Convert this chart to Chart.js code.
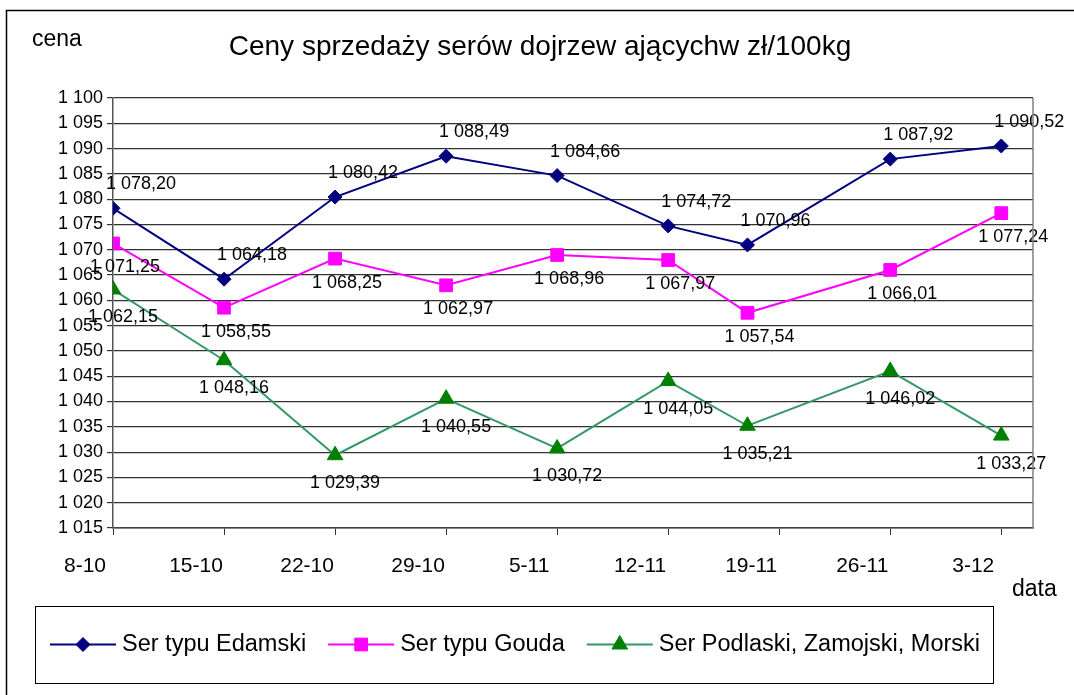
<!DOCTYPE html>
<html lang="pl">
<head>
<meta charset="utf-8">
<title>Ceny sprzedaży serów</title>
<script src="https://cdn.jsdelivr.net/npm/chart.js@4.4.1/dist/chart.umd.min.js"></script>
<style>
  html, body { margin: 0; padding: 0; background: #fff; }
  canvas { display: block; }
</style>
</head>
<body>
<canvas id="chart" width="1074" height="695"></canvas>
<script>
// Ceny sprzedaży serów dojrzewających w zł/100kg - notowania tygodniowe
const tickDays = [0, 7, 14, 21, 28, 35, 42, 49, 56]
const tickLabels = ['8-10', '15-10', '22-10', '29-10', '5-11', '12-11', '19-11', '26-11', '3-12']
// days counted from 8-10 (the 19-11 reading sits a bit before its tick on the date axis)
const pointDays = [0, 7, 14, 21, 28, 35, 40, 49, 56]
const edamski = [1078.20, 1064.18, 1080.42, 1088.49, 1084.66, 1074.72, 1070.96, 1087.92, 1090.52]
const gouda = [1071.25, 1058.55, 1068.25, 1062.97, 1068.96, 1067.97, 1057.54, 1066.01, 1077.24]
const podlaski = [1062.15, 1048.16, 1029.39, 1040.55, 1030.72, 1044.05, 1035.21, 1046.02, 1033.27]
const seriesNames = ['Ser typu Edamski', 'Ser typu Gouda', 'Ser Podlaski, Zamojski, Morski']

const FONT = "'Liberation Sans', Arial, sans-serif"

// "1 078,20" style
function plNumber(v, decimals) {
  const parts = v.toFixed(decimals).split('.')
  const int = parts[0].replace(/\B(?=(\d{3})+(?!\d))/g, ' ')
  return parts[1] ? int + ',' + parts[1] : int
}

const toPoints = (values) => values.map((v, i) => ({ x: pointDays[i], y: v }))

const datasets = [
  {
    label: seriesNames[0],
    data: toPoints(edamski),
    borderColor: '#000080',
    backgroundColor: '#000080',
    pointStyle: 'rectRot',
    pointRadius: 7,
    labelShift: { dx: 28, dy: -24 }
  },
  {
    label: seriesNames[1],
    data: toPoints(gouda),
    borderColor: '#FF00FF',
    backgroundColor: '#FF00FF',
    pointStyle: 'rect',
    pointRadius: 9,
    labelShift: { dx: 12, dy: 24 }
  },
  {
    label: seriesNames[2],
    data: toPoints(podlaski),
    borderColor: '#339966',
    backgroundColor: '#008000',
    pointBorderColor: '#008000',
    pointStyle: 'triangle',
    pointRadius: 9,
    labelShift: { dx: 10, dy: 28 }
  }
].map(ds => ({
  ...ds,
  borderWidth: 2,
  pointBorderWidth: 1,
  pointBackgroundColor: ds.backgroundColor,
  pointBorderColor: ds.pointBorderColor || ds.backgroundColor,
  tension: 0,
  fill: false
}))

// Value labels next to each point, Excel style
const valueLabels = {
  id: 'valueLabels',
  afterDatasetsDraw(chart) {
    const ctx = chart.ctx
    ctx.save()
    ctx.font = '18px ' + FONT
    ctx.fillStyle = '#000'
    ctx.textAlign = 'center'
    ctx.textBaseline = 'middle'
    chart.data.datasets.forEach((ds, di) => {
      const meta = chart.getDatasetMeta(di)
      meta.data.forEach((pt, i) => {
        ctx.fillText(plNumber(ds.data[i].y, 2), pt.x + ds.labelShift.dx, pt.y + ds.labelShift.dy)
      })
    })
    ctx.restore()
  }
}

// Frame, title, axis captions and the boxed legend
const decor = {
  id: 'decor',
  beforeDraw(chart) {
    const ctx = chart.ctx
    ctx.save()
    ctx.fillStyle = '#fff'
    ctx.fillRect(0, 0, chart.width, chart.height)
    ctx.strokeStyle = '#000'
    ctx.lineWidth = 1.5
    ctx.beginPath()
    ctx.moveTo(6.5, chart.height)
    ctx.lineTo(6.5, 10.5)
    ctx.lineTo(chart.width, 10.5)
    ctx.stroke()
    ctx.restore()
  },
  afterDraw(chart) {
    const ctx = chart.ctx
    const area = chart.chartArea
    ctx.save()

    // right edge of the plot area
    ctx.strokeStyle = '#808080'
    ctx.lineWidth = 1.5
    ctx.beginPath()
    ctx.moveTo(area.right, area.top)
    ctx.lineTo(area.right, area.bottom)
    ctx.stroke()

    ctx.fillStyle = '#000'
    ctx.textBaseline = 'middle'
    ctx.textAlign = 'center'
    ctx.font = '28px ' + FONT
    ctx.fillText('Ceny sprzedaży serów dojrzew ającychw zł/100kg', 540, 47)

    ctx.textAlign = 'left'
    ctx.font = '23px ' + FONT
    ctx.fillText('cena', 32, 40)
    ctx.fillText('data', 1012, 590)

    // legend
    const box = { x: 35, y: 606, w: 958, h: 77 }
    ctx.strokeStyle = '#000'
    ctx.lineWidth = 1
    ctx.strokeRect(box.x + 0.5, box.y + 0.5, box.w, box.h)

    const cy = box.y + box.h / 2
    let x = 50
    ctx.font = '23.5px ' + FONT
    chart.data.datasets.forEach(ds => {
      ctx.strokeStyle = ds.borderColor
      ctx.lineWidth = 2
      ctx.beginPath()
      ctx.moveTo(x, cy)
      ctx.lineTo(x + 66, cy)
      ctx.stroke()

      ctx.fillStyle = ds.pointBackgroundColor
      ctx.strokeStyle = ds.pointBorderColor
      ctx.lineWidth = 1
      Chart.helpers.drawPoint(ctx, {
        pointStyle: ds.pointStyle,
        radius: ds.pointRadius,
        rotation: 0,
        borderWidth: 1
      }, x + 33, cy)

      ctx.fillStyle = '#000'
      ctx.fillText(ds.label, x + 72, cy)
      x += 72 + ctx.measureText(ds.label).width + 22
    })

    ctx.restore()
  }
}

new Chart(document.getElementById('chart').getContext('2d'), {
  type: 'line',
  data: { datasets },
  options: {
    responsive: false,
    animation: false,
    layout: { padding: { top: 98, left: 0, right: 41, bottom: 107 } },
    plugins: {
      legend: { display: false },
      tooltip: { enabled: false },
      title: { display: false }
    },
    scales: {
      x: {
        type: 'linear',
        min: 0,
        max: 58,
        afterBuildTicks: (axis) => { axis.ticks = tickDays.map(v => ({ value: v })) },
        afterFit: (axis) => { axis.height = 60 },
        grid: {
          drawOnChartArea: false,
          drawTicks: true,
          tickLength: 7,
          color: '#333'
        },
        border: { display: true, color: '#444', width: 1.5 },
        ticks: {
          autoSkip: false,
          maxRotation: 0,
          padding: 19,
          labelOffset: -28,
          color: '#000',
          font: { family: FONT, size: 21 },
          callback: (value) => {
            const i = tickDays.indexOf(value)
            return i >= 0 ? tickLabels[i] : ''
          }
        }
      },
      y: {
        min: 1015,
        max: 1100,
        afterFit: (axis) => { axis.width = 113 },
        grid: {
          color: '#333',
          lineWidth: 1.2,
          drawTicks: true,
          tickLength: 6
        },
        border: { display: true, color: '#555', width: 1.5 },
        ticks: {
          stepSize: 5,
          padding: 4,
          color: '#000',
          font: { family: FONT, size: 18 },
          callback: (value) => plNumber(value, 0)
        }
      }
    }
  },
  plugins: [valueLabels, decor]
})
</script>
</body>
</html>
